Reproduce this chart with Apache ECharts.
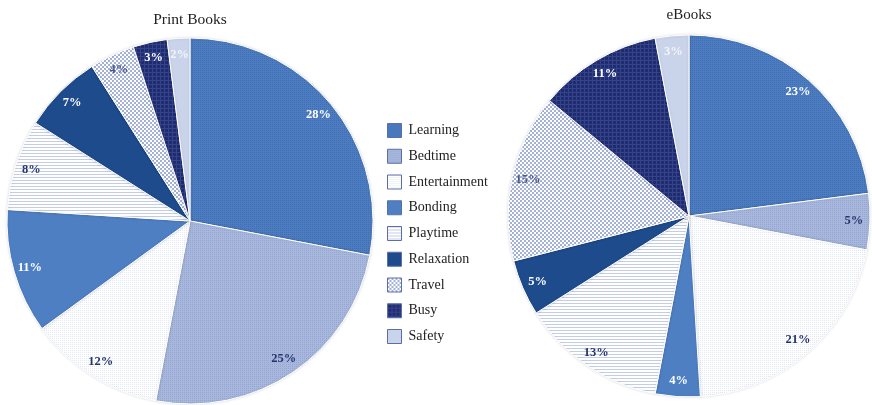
<!DOCTYPE html>
<html>
<head>
<meta charset="utf-8">
<script src="https://cdn.jsdelivr.net/npm/echarts@6/dist/echarts.min.js"></script>
<style>
  html, body { margin: 0; padding: 0; background: #ffffff; }
  #chart { width: 872px; height: 405px; }
</style>
</head>
<body>
<div id="chart"></div>
<script>
// Reasons for reading, share of respondents (%)
const categories = ['Learning', 'Bedtime', 'Entertainment', 'Bonding', 'Playtime', 'Relaxation', 'Travel', 'Busy', 'Safety'];
const printBooks = [28, 25, 12, 11, 8, 7, 4, 3, 2];
const eBooks = [23, 5, 21, 4, 13, 5, 15, 11, 3];
const chartTitles = ['Print Books', 'eBooks'];

// Small repeating tiles used as slice fills
function tile(size, draw) {
  const c = document.createElement('canvas');
  c.width = size; c.height = size;
  draw(c.getContext('2d'), size);
  return { image: c, repeat: 'repeat' };
}
function dots(bg, fg) {
  return tile(2, (g) => { g.fillStyle = bg; g.fillRect(0, 0, 2, 2); g.fillStyle = fg; g.fillRect(0, 0, 1, 1); });
}
const fills = {
  Learning: dots('#4d7dc0', '#3f6eb1'),
  Bedtime: dots('#a8b8dd', '#95a7d1'),
  Entertainment: dots('#ffffff', '#e3e9f5'),
  Bonding: '#4e7fc3',
  Playtime: tile(3, (g) => { g.fillStyle = '#ffffff'; g.fillRect(0, 0, 3, 3); g.fillStyle = '#c3cee6'; g.fillRect(0, 0, 3, 1); }),
  Relaxation: '#1e4b8c',
  Travel: tile(4, (g) => { g.fillStyle = '#ffffff'; g.fillRect(0, 0, 4, 4); g.fillStyle = '#a4b1d7'; g.fillRect(0, 0, 2, 2); g.fillRect(2, 2, 2, 2); }),
  Busy: tile(4, (g) => { g.fillStyle = '#1f2c70'; g.fillRect(0, 0, 4, 4); g.fillStyle = '#34438a'; g.fillRect(0, 0, 4, 1); g.fillRect(0, 0, 1, 4); }),
  Safety: '#c9d3ea'
};
const labelColors = {
  Learning: '#ffffff', Bedtime: '#26356e', Entertainment: '#26356e', Bonding: '#ffffff',
  Playtime: '#26356e', Relaxation: '#ffffff', Travel: '#4a5a8a', Busy: '#ffffff', Safety: '#f2f4fa'
};

function slices(values) {
  return categories.map((name, i) => ({ name, value: values[i], itemStyle: { color: fills[name] } }));
}
function labelSlices(values) {
  return categories.map((name, i) => ({ name, value: values[i], label: { color: labelColors[name] } }));
}

const serif = '"Liberation Serif", "DejaVu Serif", serif';
const pies = [
  { values: printBooks, center: [190, 221], r: 183 },
  { values: eBooks, center: [689, 216], r: 181 }
];

const series = [];
pies.forEach((p) => {
  series.push({
    type: 'pie', center: p.center, radius: [0, p.r], startAngle: 90, clockwise: true,
    silent: true, animation: false,
    itemStyle: { borderColor: '#ffffff', borderWidth: 1, shadowColor: 'rgba(0,0,0,0.12)', shadowBlur: 3 },
    label: { show: false }, labelLine: { show: false },
    data: slices(p.values)
  });
});
pies.forEach((p) => {
  // transparent ring so that value labels sit near the rim
  series.push({
    type: 'pie', center: p.center, radius: [p.r * 0.79, p.r], startAngle: 90, clockwise: true,
    silent: true, animation: false, legendHoverLink: false,
    itemStyle: { color: 'rgba(0,0,0,0)', borderWidth: 0 },
    label: { show: true, position: 'inside', formatter: '{c}%', fontFamily: serif, fontWeight: 'bold', fontSize: 12.5 },
    labelLine: { show: false },
    data: labelSlices(p.values)
  });
});

const chart = echarts.init(document.getElementById('chart'), null, { renderer: 'canvas' });
chart.setOption({
  backgroundColor: '#ffffff',
  animation: false,
  title: [
    { text: chartTitles[0], left: 185, top: 7, textAlign: 'center',
      textStyle: { fontFamily: serif, fontSize: 15.5, fontWeight: 'normal', color: '#222222' } },
    { text: chartTitles[1], left: 684, top: 3, textAlign: 'center',
      textStyle: { fontFamily: serif, fontSize: 15, fontWeight: 'normal', color: '#222222' } }
  ],
  legend: {
    orient: 'vertical', left: 382, top: 118, padding: 5,
    itemWidth: 14, itemHeight: 14, itemGap: 10.75,
    icon: 'rect', selectedMode: false,
    data: categories,
    itemStyle: { borderColor: '#5b6fa6', borderWidth: 1 },
    textStyle: { fontFamily: serif, fontSize: 14, lineHeight: 14, color: '#222222', padding: [0, 0, 0, 2] }
  },
  series
});
</script>
</body>
</html>
